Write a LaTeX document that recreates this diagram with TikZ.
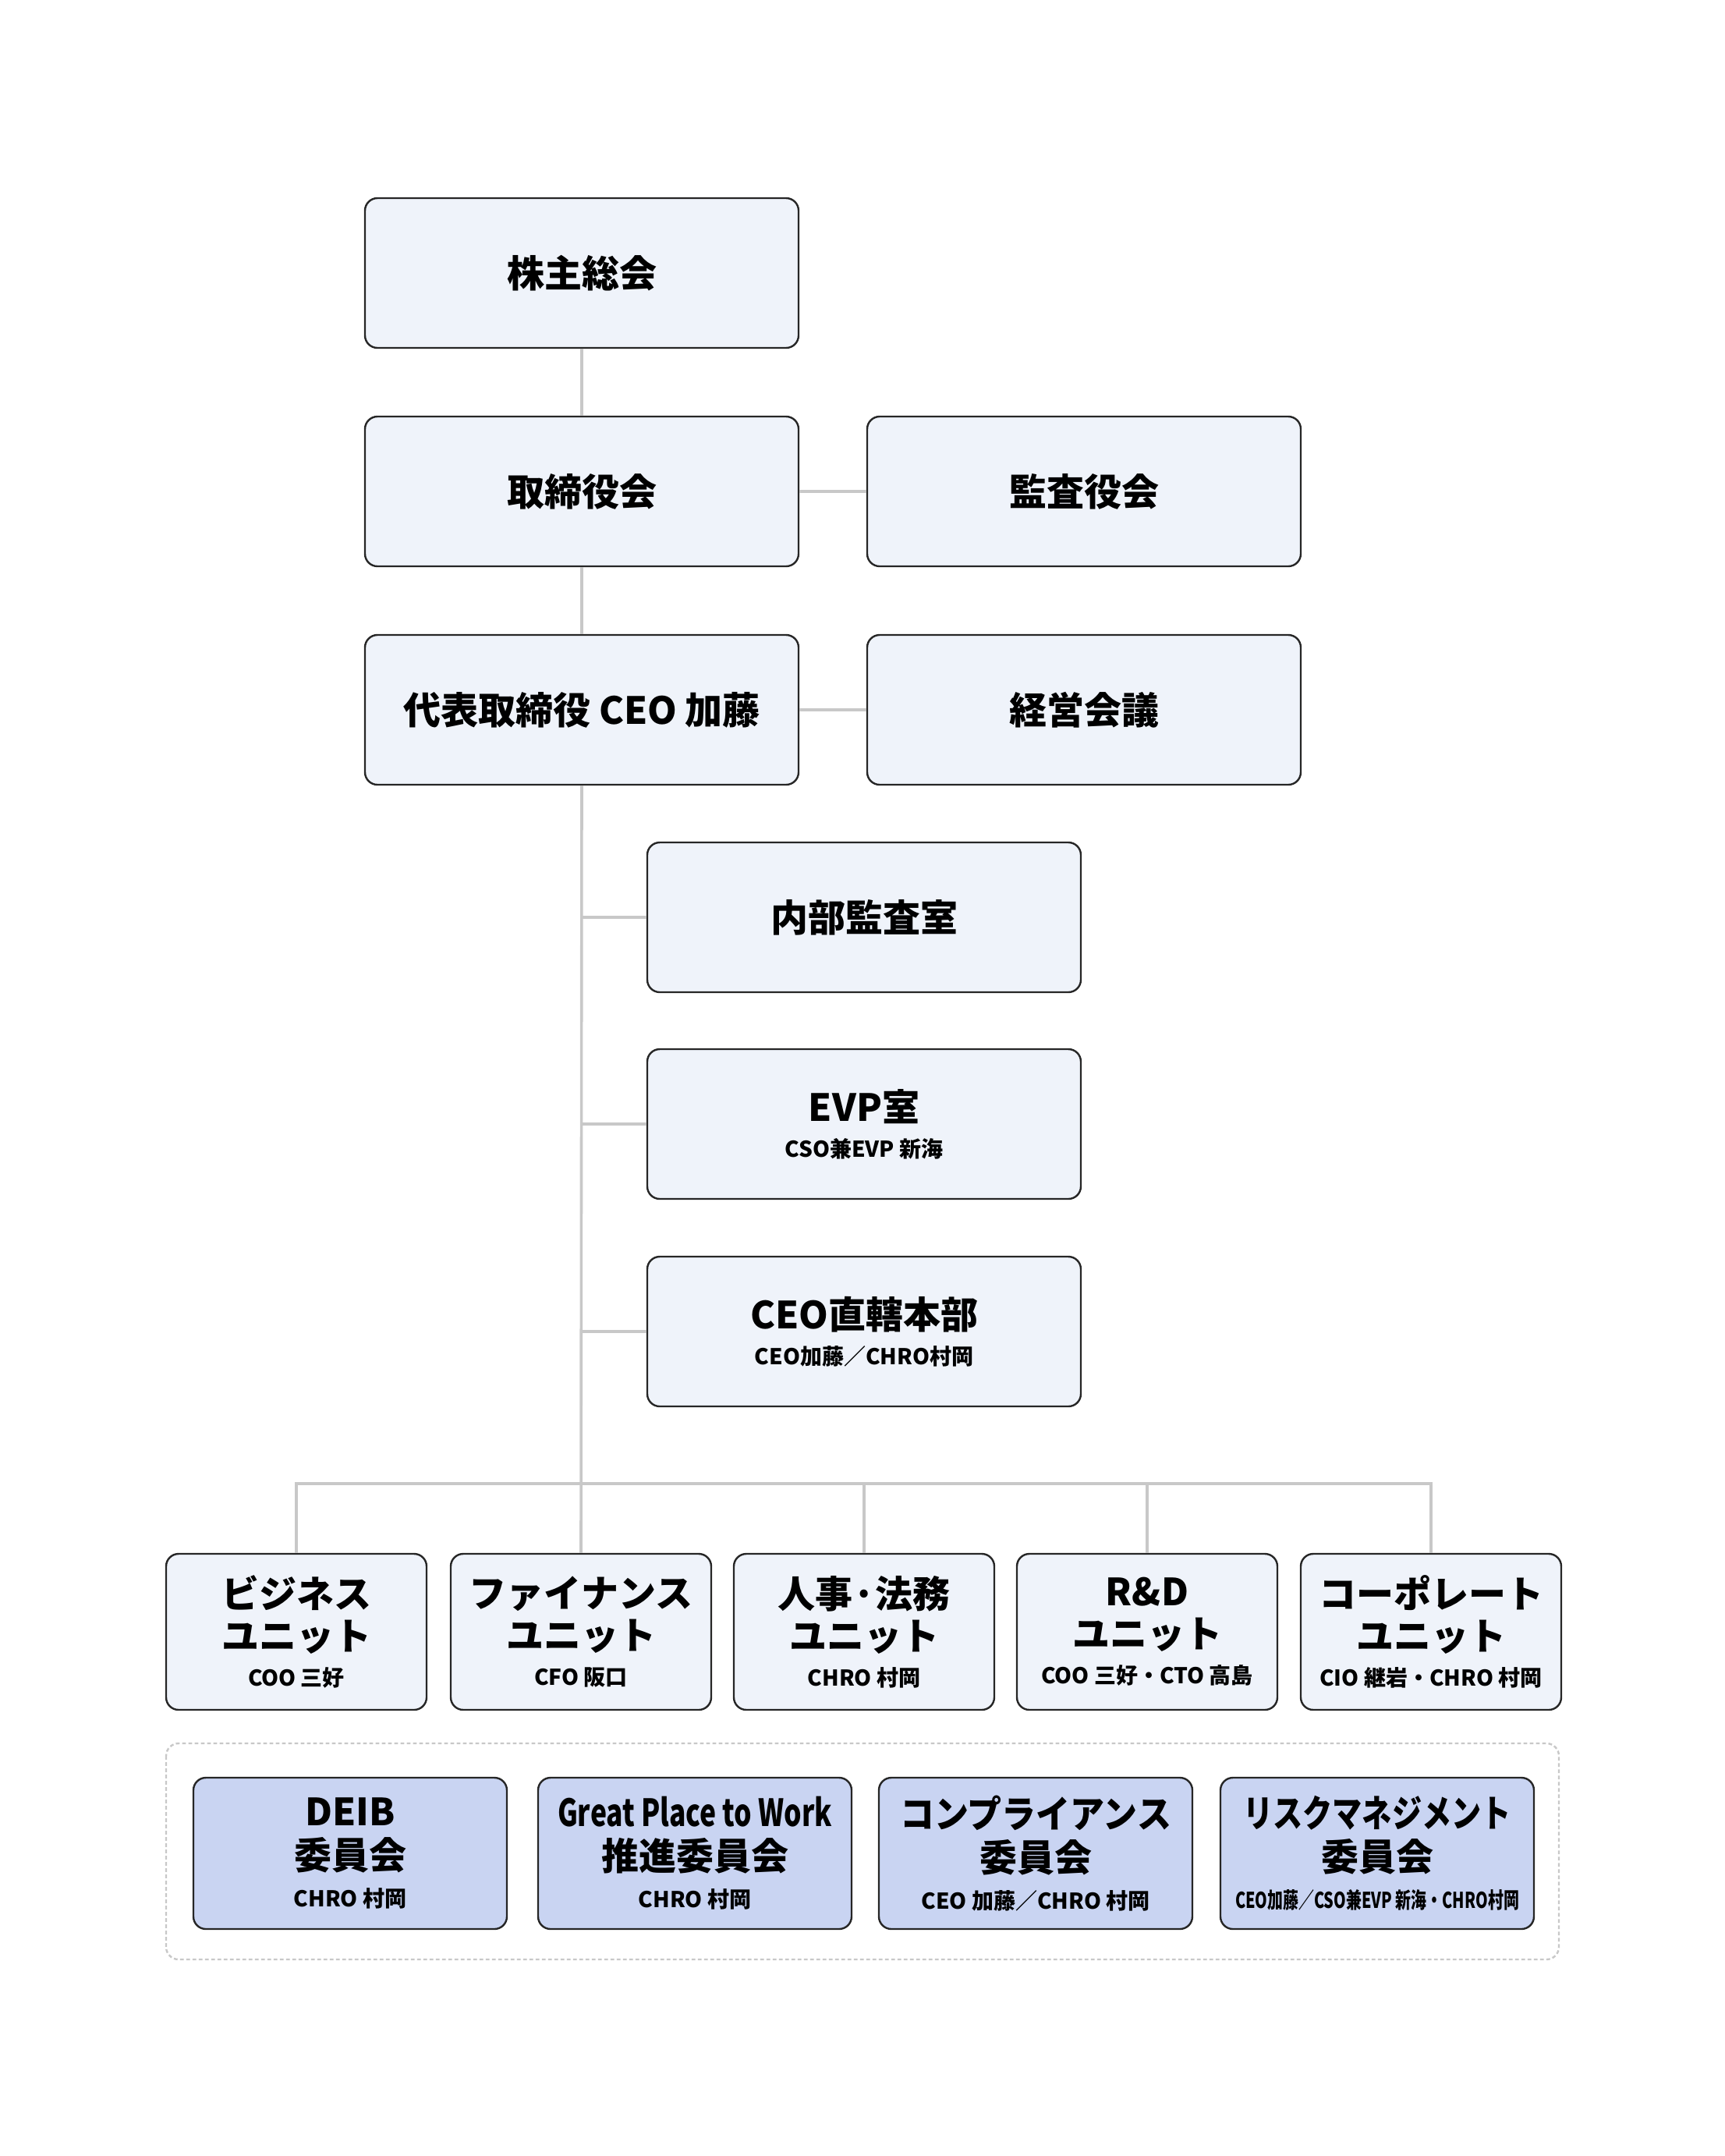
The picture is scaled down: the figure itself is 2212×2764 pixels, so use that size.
\documentclass[tikz,border=0pt]{standalone}
\usepackage{fontspec}
\setmainfont{Noto Sans CJK JP}
\usepackage{graphicx}
\definecolor{boxfill}{HTML}{EFF3FA}
\definecolor{cmtfill}{HTML}{C9D4F2}
\definecolor{linkgray}{HTML}{C8C8C8}
\definecolor{edgedark}{HTML}{262626}
\newcommand{\subline}[1]{{\fontsize{7}{8}\selectfont #1}}
\newcommand{\squeeze}[2]{\resizebox{#1}{\height}{#2}}
\tikzset{
  orgbox/.style={draw=edgedark, fill=boxfill, line width=0.6pt, rounded corners=4pt,
    minimum width=139pt, minimum height=48pt, align=center, inner sep=0pt,
    font=\fontsize{12}{13.5}\selectfont\bfseries},
  unitbox/.style={orgbox, minimum width=83.5pt, minimum height=50pt},
  cmtbox/.style={orgbox, fill=cmtfill, minimum width=100.5pt, minimum height=48.5pt},
  link/.style={draw=linkgray, line width=0.9pt},
  cmtframe/.style={draw=linkgray, line width=0.6pt, dash pattern=on 1.2pt off 0.8pt, rounded corners=4pt}
}
\begin{document}
\begin{tikzpicture}[x=0.25pt, y=-0.25pt]
\useasboundingbox (0,0) rectangle (2212,2764);

% governance
\node[orgbox] (agm) at (746,350) {株主総会};
\node[orgbox] (board) at (746,630) {取締役会};
\node[orgbox] (kansa) at (1390,630) {監査役会};
\node[orgbox] (ceo) at (746,910) {代表取締役 CEO 加藤};
\node[orgbox] (keiei) at (1390,910) {経営会議};

% under CEO
\node[orgbox] (naibu) at (1108,1176) {内部監査室};
\node[orgbox] (evp) at (1108,1441) {EVP室\\[-2pt]\subline{CSO兼EVP 新海}};
\node[orgbox] (direct) at (1108,1707) {CEO直轄本部\\[-2pt]\subline{CEO加藤／CHRO村岡}};

% units
\node[unitbox] (u1) at (380,2092) {ビジネス\\ユニット\\[-2pt]\subline{COO 三好}};
\node[unitbox] (u2) at (745,2092) {ファイナンス\\ユニット\\[-2pt]\subline{CFO 阪口}};
\node[unitbox] (u3) at (1108,2092) {人事·法務\\ユニット\\[-2pt]\subline{CHRO 村岡}};
\node[unitbox] (u4) at (1471,2092) {R\&D\\ユニット\\[-2pt]\subline{COO 三好・CTO 高島}};
\node[unitbox] (u5) at (1835,2092) {コーポレート\\ユニット\\[-2pt]\subline{CIO 継岩・CHRO 村岡}};

% committees
\draw[cmtframe] (213,2235) rectangle (1999,2512);
\node[cmtbox] (deib) at (449,2376) {DEIB\\[0.5pt]委員会\\[-1.5pt]\subline{CHRO 村岡}};
\node[cmtbox] (gptw) at (891,2376) {\squeeze{88pt}{Great Place to Work}\\[0.5pt]推進委員会\\[-1.5pt]\subline{CHRO 村岡}};
\node[cmtbox] (comp) at (1328,2376) {\squeeze{87pt}{コンプライアンス}\\[0.5pt]委員会\\[-1.5pt]\subline{CEO 加藤／CHRO 村岡}};
\node[cmtbox] (risk) at (1766,2376) {\squeeze{86pt}{リスクマネジメント}\\[0.5pt]委員会\\[-1.5pt]\subline{\squeeze{91pt}{CEO加藤／CSO兼EVP 新海・CHRO村岡}}};

% lines
\draw[link] (agm.south) -- (board.north);
\draw[link] (board.south) -- (ceo.north);
\draw[link] (board.east) -- (kansa.west);
\draw[link] (ceo.east) -- (keiei.west);
\draw[link] (ceo.south) -- (u2.north);
\foreach \b in {naibu,evp,direct}
  \draw[link] (ceo.south |- \b.west) -- (\b.west);
\coordinate (bus) at (746,1902);
\draw[link] (u1.north) -- (u1.north |- bus) -- (u5.north |- bus) -- (u5.north);
\foreach \u in {u3,u4}
  \draw[link] (\u.north) -- (\u.north |- bus);
\end{tikzpicture}
\end{document}
